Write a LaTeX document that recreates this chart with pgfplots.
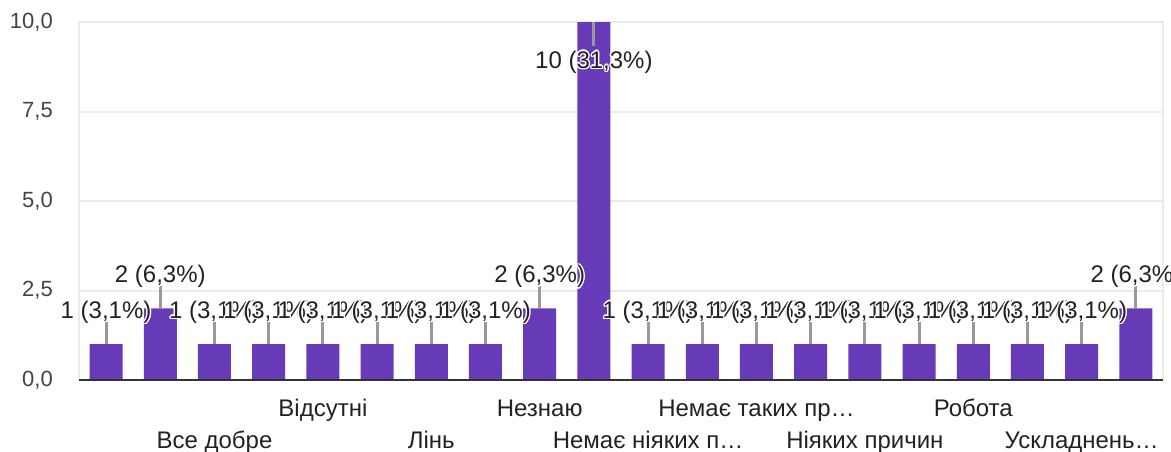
\documentclass[border=0pt]{standalone}
\usepackage{pgfplots}
\pgfplotsset{compat=1.18}
\usepackage{fontspec}
\setmainfont{Liberation Sans}
\definecolor{barc}{HTML}{673AB7}
\definecolor{gridc}{HTML}{EBEBEB}
\definecolor{axc}{HTML}{333333}
\definecolor{tickc}{HTML}{444444}
\definecolor{labc}{HTML}{222222}
\definecolor{leadc}{HTML}{999999}
\newcommand\halo[1]{%
 \leavevmode
 \rlap{\color{white}\hspace*{1.4pt}#1}%
 \rlap{\color{white}\hspace*{-1.4pt}#1}%
 \rlap{\color{white}\raisebox{1.4pt}{#1}}%
 \rlap{\color{white}\raisebox{-1.4pt}{#1}}%
 \rlap{\color{white}\hspace*{1pt}\raisebox{1pt}{#1}}%
 \rlap{\color{white}\hspace*{-1pt}\raisebox{1pt}{#1}}%
 \rlap{\color{white}\hspace*{1pt}\raisebox{-1pt}{#1}}%
 \rlap{\color{white}\hspace*{-1pt}\raisebox{-1pt}{#1}}%
 #1}
\pgfplotstableread{
x y pct lead dy
0 1 3.1 0.615 26
1 2 6.3 0.615 25.5
2 1 3.1 0.615 26
3 1 3.1 0.615 26
4 1 3.1 0.615 26
5 1 3.1 0.615 26
6 1 3.1 0.615 26
7 1 3.1 0.615 26
8 2 6.3 0.615 25.5
9 10 31.3 -0.67 -46
10 1 3.1 0.615 26
11 1 3.1 0.615 26
12 1 3.1 0.615 26
13 1 3.1 0.615 26
14 1 3.1 0.615 26
15 1 3.1 0.615 26
16 1 3.1 0.615 26
17 1 3.1 0.615 26
18 1 3.1 0.615 26
19 2 6.3 0.615 25.5
}\datatable
\begin{document}
\begin{tikzpicture}
\path[use as bounding box] (0,0) rectangle (1171pt,451pt);
\begin{axis}[
 at={(79pt,71pt)}, anchor=south west, scale only axis,
 width=1084pt, height=358pt,
 xmin=-0.5, xmax=19.5, ymin=0, ymax=10,
 clip=false,
 axis line style={draw=gridc, line width=1.5pt},
 ymajorgrids, major grid style={draw=gridc, line width=2pt},
 ytick={0,2.5,5,7.5,10}, yticklabels={{0,0},{2,5},{5,0},{7,5},{10,0}},
 xtick={2,4,...,18},
 xticklabels={\raisebox{-32pt}{Все добре}, Відсутні, \raisebox{-32pt}{Лінь}, Незнаю, \raisebox{-32pt}{Немає ніяких п…}, Немає таких пр…, \raisebox{-32pt}{Ніяких причин}, Робота, \raisebox{-32pt}{Ускладнень…}},
 major tick length=0pt,
 tick style={draw=none},
 yticklabel style={font=\fontsize{22}{26}\selectfont, text=tickc, anchor=east, inner sep=0pt, xshift=-26pt},
 xticklabel style={font=\fontsize{24}{28}\selectfont, text=labc, anchor=base, inner sep=0pt, yshift=-36pt},
 /pgf/number format/assume math mode=true,
 after end axis/.code={\draw[draw=axc, line width=2pt] (rel axis cs:0,0) -- (rel axis cs:1,0);},
]
\addplot[ybar, bar width=33pt, bar shift=0pt, fill=barc, draw=none,
 point meta=y,
 visualization depends on={\thisrow{pct} \as \pct},
 visualization depends on={\thisrow{dy} \as \labdy},
 nodes near coords={\halo{\pgfmathprintnumber{\pgfplotspointmeta}~(\pgfmathprintnumber[fixed,precision=1,fixed zerofill,use comma]{\pct}\%)}},
 every node near coord/.append style={font=\fontsize{24}{28}\selectfont, text=labc, anchor=base, inner sep=0pt, yshift=\labdy pt},
] table[x=x, y=y] {\datatable};
\addplot[quiver={u=0, v=\thisrow{lead}, every arrow/.append style={line width=3pt, draw=leadc}}, draw=leadc, line width=3pt, mark=none, -]
 table[x=x, y=y] {\datatable};
\end{axis}
\end{tikzpicture}
\end{document}
